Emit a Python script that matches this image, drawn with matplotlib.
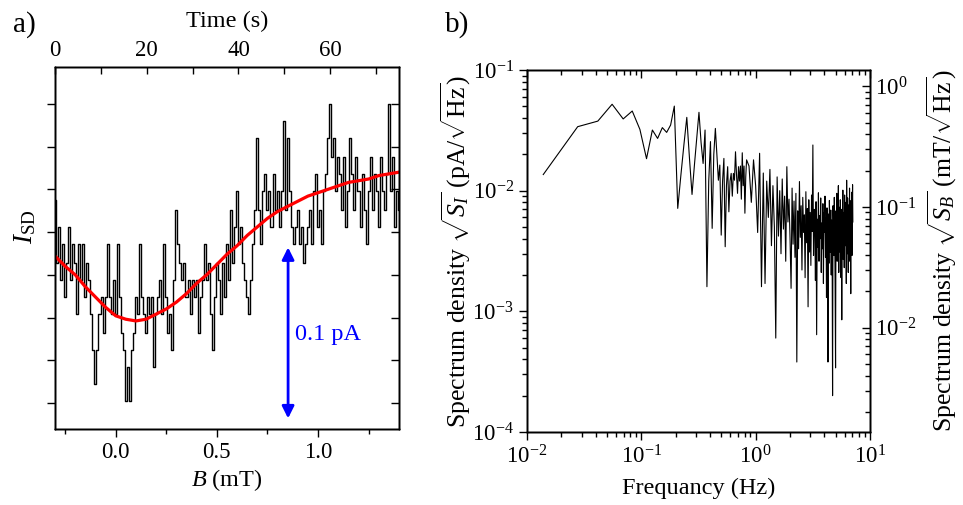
import numpy as np
import matplotlib
matplotlib.use("Agg")
import matplotlib.pyplot as plt
from matplotlib.ticker import (MultipleLocator, FixedLocator, NullFormatter,
                               FormatStrFormatter, LogLocator, LogFormatterMathtext)

plt.rcParams.update({
    "font.family": ["Liberation Serif", "DejaVu Serif"],
    "mathtext.fontset": "custom",
    "mathtext.rm": "Liberation Serif",
    "mathtext.it": "Liberation Serif:italic",
    "mathtext.bf": "Liberation Serif:bold",
    "axes.linewidth": 1.0,
})

# ---------------- panel a data ----------------
B_START, B_STOP, N_B = -0.30, 1.40, 171          # field sweep (mT), sampled points
isd_pa = [
    0.119, 0.082, 0.103, 0.072, 0.093, 0.062, 0.082, 0.103, 0.072, 0.093,
    0.082, 0.052, 0.093, 0.072, 0.093, 0.062, 0.082, 0.072, 0.052, 0.031,
    0.011, 0.031, 0.052, 0.062, 0.041, 0.062, 0.093, 0.062, 0.052, 0.072,
    0.052, 0.093, 0.062, 0.041, 0.031, 0.001, 0.021, 0.001, 0.031, 0.041,
    0.062, 0.052, 0.093, 0.062, 0.052, 0.041, 0.062, 0.052, 0.062, 0.021,
    0.052, 0.062, 0.072, 0.052, 0.093, 0.062, 0.041, 0.052, 0.031, 0.072,
    0.113, 0.093, 0.082, 0.072, 0.082, 0.062, 0.072, 0.052, 0.072, 0.062,
    0.072, 0.041, 0.062, 0.072, 0.093, 0.072, 0.082, 0.052, 0.031, 0.062,
    0.082, 0.072, 0.052, 0.082, 0.062, 0.093, 0.072, 0.113, 0.082, 0.103,
    0.124, 0.093, 0.103, 0.082, 0.072, 0.062, 0.052, 0.072, 0.093, 0.113,
    0.155, 0.113, 0.093, 0.124, 0.134, 0.113, 0.124, 0.103, 0.134, 0.113,
    0.124, 0.103, 0.124, 0.165, 0.113, 0.155, 0.124, 0.103, 0.093, 0.103,
    0.113, 0.093, 0.103, 0.082, 0.093, 0.103, 0.113, 0.093, 0.124, 0.134,
    0.103, 0.113, 0.093, 0.124, 0.134, 0.155, 0.175, 0.144, 0.155, 0.124,
    0.144, 0.134, 0.113, 0.144, 0.103, 0.124, 0.155, 0.134, 0.113, 0.144,
    0.124, 0.103, 0.134, 0.113, 0.093, 0.124, 0.144, 0.113, 0.134, 0.124,
    0.103, 0.144, 0.124, 0.113, 0.134, 0.175, 0.124, 0.144, 0.103, 0.124,
    0.113,
]
fit_b = [-0.30, -0.25, -0.20, -0.15, -0.10, -0.05, 0.00, 0.05, 0.10, 0.15,
         0.20, 0.25, 0.30, 0.35, 0.40, 0.45, 0.50, 0.55, 0.60, 0.65,
         0.70, 0.75, 0.80, 0.85, 0.90, 0.95, 1.00, 1.05, 1.10, 1.15,
         1.20, 1.25, 1.30, 1.35, 1.40]
fit_i = [0.086, 0.080, 0.075, 0.068, 0.062, 0.056, 0.051, 0.049, 0.048, 0.049,
         0.052, 0.055, 0.059, 0.064, 0.070, 0.075, 0.081, 0.087, 0.092, 0.098,
         0.103, 0.108, 0.112, 0.115, 0.118, 0.121, 0.123, 0.125, 0.127, 0.129,
         0.130, 0.131, 0.133, 0.134, 0.135]
time_range_s = (0, 75)
time_ticks = [0, 20, 40, 60]
b_ticks = [0.0, 0.5, 1.0]
i_ticks = [0.0, 0.025, 0.05, 0.075, 0.1, 0.125, 0.15, 0.175]
scale_bar = (-0.009, 0.091)   # 0.1 pA
scale_bar_b = 0.852
scale_label = "0.1 pA"

# ---------------- panel b data ----------------
DF = 1.0 / 72.0     # frequency resolution (Hz)
k_low = np.arange(1, 61)
k_high = np.arange(63, 511, 3)
spec_low = [
    0.0136, 0.0339, 0.0377, 0.052, 0.0393, 0.0457, 0.0322, 0.0184, 0.0318, 0.0271,
    0.0333, 0.0304, 0.035, 0.0502, 0.00713, 0.0136, 0.0242, 0.0405, 0.0185, 0.0093,
    0.0164, 0.0271, 0.0446, 0.025, 0.0168, 0.0318, 0.0016, 0.012, 0.0255, 0.00487,
    0.020, 0.0328, 0.020, 0.0122, 0.0163, 0.00428, 0.012, 0.0185, 0.00343, 0.011,
    0.0158, 0.00668, 0.012, 0.0139, 0.009, 0.0139, 0.0122, 0.021, 0.0135, 0.0095,
    0.0158, 0.012, 0.016, 0.0085, 0.0206, 0.011, 0.016, 0.0065, 0.013, 0.018,
]
spec_high = [
    0.016, 0.008, 0.018, 0.011, 0.0045, 0.0204, 0.0016, 0.014, 0.0017, 0.012,
    0.006, 0.015, 0.0035, 0.011, 0.0050, 0.0006, 0.013, 0.0042, 0.010, 0.0030,
    0.0125, 0.0048, 0.009, 0.0026, 0.0158, 0.0055, 0.0085, 0.0040, 0.00155, 0.0105,
    0.0036, 0.0082, 0.0028, 0.0095, 0.00038, 0.0068, 0.0033, 0.0119, 0.0041, 0.0075,
    0.0022, 0.0088, 0.0045, 0.0063, 0.0019, 0.0098, 0.0037, 0.0071, 0.00109, 0.0084,
    0.0031, 0.0066, 0.0024, 0.0092, 0.0046, 0.0239, 0.0029, 0.0070, 0.0052, 0.0018,
    0.0081, 0.00064, 0.0058, 0.0034, 0.0096, 0.0026, 0.0062, 0.0040, 0.0087, 0.0021,
    0.0054, 0.0033, 0.0078, 0.0017, 0.0066, 0.0045, 0.0090, 0.0028, 0.0059, 0.0013,
    0.0072, 0.0038, 0.00038, 0.0064, 0.0025, 0.0083, 0.0047, 0.0031, 0.0069, 0.0020,
    0.0057, 0.0036, 0.0002, 0.0075, 0.0042, 0.0029, 0.0088, 0.0050, 0.0016, 0.00034,
    0.0068, 0.0039, 0.0095, 0.0026, 0.0061, 0.0044, 0.0110, 0.0021, 0.0073, 0.0048,
    0.0031, 0.0084, 0.0055, 0.0019, 0.0070, 0.00085, 0.0062, 0.0040, 0.0101, 0.0027,
    0.0066, 0.0049, 0.0023, 0.0092, 0.0058, 0.0035, 0.0080, 0.0043, 0.0017, 0.0122,
    0.0052, 0.0030, 0.0087, 0.0046, 0.0021, 0.0076, 0.0060, 0.0033, 0.0105, 0.0026,
    0.0069, 0.0045, 0.0014, 0.0083, 0.0038, 0.0097, 0.0029, 0.0064, 0.0112, 0.0055,
]
MT_PER_PA = 13.64   # conversion current noise -> field noise (right axis)

# ---------------- figure ----------------
fig = plt.figure(figsize=(9.63, 5.05), dpi=100)
axA = fig.add_axes([0.0571, 0.1505, 0.3572, 0.7168])
axB = fig.add_axes([0.5472, 0.1446, 0.3562, 0.7168])

TICK = 16.5
LAB = 17.5
YLAB = 18.5

# ---- panel a ----
b_field = np.linspace(B_START, B_STOP, N_B)
axA.plot(b_field, isd_pa, color="black", lw=1.0, drawstyle="steps-mid")
axA.plot(fit_b, fit_i, color="red", lw=2.3)
axA.set_xlim(B_START, B_STOP)
axA.set_ylim(-0.0152, 0.1965)
axA.xaxis.set_major_locator(FixedLocator(b_ticks))
axA.xaxis.set_minor_locator(MultipleLocator(0.25))
axA.xaxis.set_major_formatter(FormatStrFormatter("%.1f"))
axA.yaxis.set_major_locator(FixedLocator(i_ticks))
axA.yaxis.set_major_formatter(NullFormatter())
axA.tick_params(which="major", direction="out", length=6, width=1, labelsize=TICK, colors="black")
axA.tick_params(which="minor", direction="out", length=3.5, width=1)
axA.set_xlabel("$B$ (mT)", fontsize=LAB, labelpad=3)
axA.set_ylabel(r"$I_{\rm SD}$", fontsize=19.5)
axA.yaxis.set_label_coords(-0.05, 0.56)

aR = axA.twinx()
aR.set_ylim(axA.get_ylim())
aR.yaxis.set_major_locator(FixedLocator(i_ticks))
aR.yaxis.set_major_formatter(NullFormatter())
aR.tick_params(direction="in", length=6, width=1)

aT = axA.twiny()
aT.set_xlim(*time_range_s)
aT.xaxis.set_major_locator(FixedLocator(time_ticks))
aT.xaxis.set_minor_locator(MultipleLocator(10))
aT.tick_params(which="major", direction="in", length=5, width=1, labelsize=TICK, pad=4)
aT.tick_params(which="minor", direction="in", length=5, width=1)
aT.set_xlabel("Time (s)", fontsize=LAB, labelpad=10)

axA.annotate("", xy=(scale_bar_b, scale_bar[1]), xytext=(scale_bar_b, scale_bar[0]),
             arrowprops=dict(arrowstyle="<|-|>", color="blue", lw=2,
                             mutation_scale=18, shrinkA=0, shrinkB=0))
axA.text(scale_bar_b + 0.035, 0.040, scale_label, color="blue", fontsize=LAB,
         va="center", ha="left")

fig.text(0.014, 0.952, "a)", fontsize=21, va="center", ha="left")

# ---- panel b ----
freq = np.concatenate([k_low, k_high]) * DF
spec = np.array(spec_low + spec_high)
axB.plot(freq, spec, color="black", lw=0.8)
axB.set_xscale("log")
axB.set_yscale("log")
axB.set_xlim(1e-2, 1e1)
axB.set_ylim(1e-4, 1e-1)
for axis in (axB.xaxis, axB.yaxis):
    axis.set_major_locator(LogLocator(base=10, numticks=10))
    axis.set_minor_locator(LogLocator(base=10, subs=np.arange(2, 10), numticks=20))
    axis.set_major_formatter(LogFormatterMathtext())
    axis.set_minor_formatter(NullFormatter())
axB.tick_params(which="major", direction="out", length=6, width=1, labelsize=TICK)
axB.tick_params(which="minor", direction="out", length=3.5, width=1)
axB.set_xlabel("Frequancy (Hz)", fontsize=LAB, labelpad=7)
axB.set_ylabel(r"Spectrum density $\sqrt{S_I}$ (pA/$\sqrt{\rm Hz}$)", fontsize=YLAB)
axB.yaxis.set_label_coords(-0.158, 0.5)

bR = axB.twinx()
bR.set_yscale("log")
bR.set_ylim(1e-4 * MT_PER_PA, 1e-1 * MT_PER_PA)
bR.yaxis.set_major_locator(LogLocator(base=10, numticks=10))
bR.yaxis.set_minor_locator(LogLocator(base=10, subs=np.arange(2, 10), numticks=20))
bR.yaxis.set_major_formatter(LogFormatterMathtext())
bR.yaxis.set_minor_formatter(NullFormatter())
bR.tick_params(which="major", direction="in", length=6, width=1, labelsize=TICK)
bR.tick_params(which="minor", direction="in", length=3.5, width=1)
bR.set_ylabel(r"Spectrum density $\sqrt{S_B}$ (mT/$\sqrt{\rm Hz}$)", fontsize=YLAB,
              rotation=90)
bR.yaxis.set_label_coords(1.16, 0.5)

bT = axB.twiny()
bT.set_xscale("log")
bT.set_xlim(1e-2, 1e1)
bT.xaxis.set_major_locator(LogLocator(base=10, numticks=10))
bT.xaxis.set_minor_locator(LogLocator(base=10, subs=np.arange(2, 10), numticks=20))
bT.xaxis.set_major_formatter(NullFormatter())
bT.xaxis.set_minor_formatter(NullFormatter())
bT.tick_params(which="major", direction="in", length=6, width=1)
bT.tick_params(which="minor", direction="in", length=3.5, width=1)

fig.text(0.462, 0.952, "b)", fontsize=21, va="center", ha="left")

fig.savefig("out.png", dpi=100)
